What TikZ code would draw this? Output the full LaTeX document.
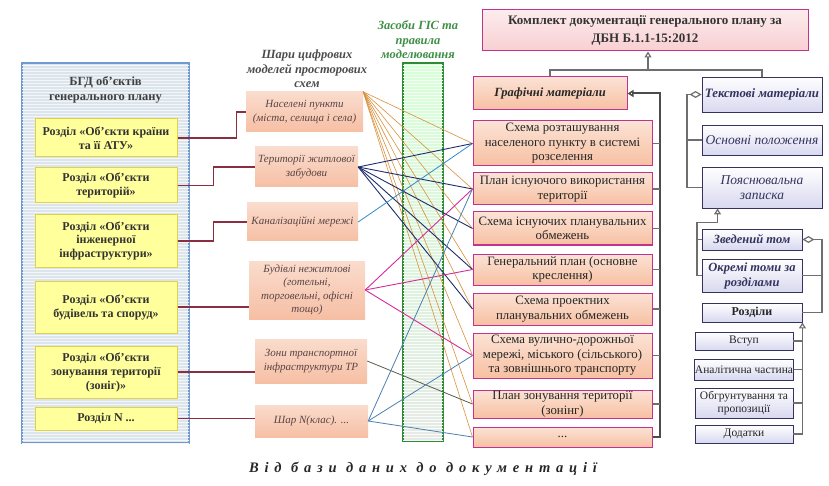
\documentclass[tikz,border=0pt]{standalone}
\usepackage{fontspec}
\setmainfont{Liberation Serif}
\usetikzlibrary{calc,patterns,arrows.meta}

\definecolor{bdline}{HTML}{6F9AD0}
\definecolor{bdfill}{HTML}{DCE4EC}
\definecolor{ylfill}{HTML}{FFFF9C}
\definecolor{ylline}{HTML}{E0D04A}
\definecolor{lrfill}{HTML}{F6BFA4}
\definecolor{lrtext}{HTML}{5A4444}
\definecolor{gisline}{HTML}{2E8A34}
\definecolor{gistext}{HTML}{3F8F46}
\definecolor{grline}{HTML}{C2338F}
\definecolor{grfill}{HTML}{F7C0A2}
\definecolor{kfill}{HTML}{F8CFD2}
\definecolor{txline}{HTML}{33335E}
\definecolor{txfill}{HTML}{D8D8F0}
\definecolor{wire}{HTML}{6E6E6E}
\definecolor{elbow}{HTML}{8C2E42}
\definecolor{wOrange}{HTML}{D9903C}
\definecolor{wNavy}{HTML}{1E2E6E}
\definecolor{wBlue}{HTML}{2E8BC8}
\definecolor{wMag}{HTML}{D42C9A}
\definecolor{wOlive}{HTML}{56604A}
\definecolor{wSteel}{HTML}{4A7FB0}

\tikzset{
  bdsec/.style={draw=ylline, fill=ylfill, line width=1pt, minimum width=142pt, inner sep=0pt,
    align=center, font=\bfseries\fontsize{12}{14}\selectfont, text=black!80},
  layer/.style={top color=lrfill!55!white, bottom color=lrfill, inner sep=0pt, align=center,
    font=\itshape\fontsize{11}{13.5}\selectfont, text=lrtext},
  grmat/.style={draw=grline, line width=1pt, top color=grfill!45!white, bottom color=grfill,
    minimum width=179pt, inner sep=0pt, align=center, font=\fontsize{12.8}{14.5}\selectfont, text=black!85},
  txmat/.style={draw=txline, line width=0.9pt, top color=white, bottom color=txfill,
    minimum width=120pt, inner sep=0pt, align=center, font=\itshape\fontsize{13.5}{15}\selectfont, text=txline},
  txsub/.style={draw=txline, line width=0.9pt, top color=white, bottom color=txfill,
    minimum width=98pt, inner sep=0pt, align=center, font=\fontsize{11.5}{13}\selectfont, text=black!85},
  hdr/.style={align=center, font=\bfseries\itshape\fontsize{12.5}{14.5}\selectfont},
  link/.style={wire, line width=1.2pt},
  otri/.tip={Triangle[open, length=6pt, width=7pt]},
  odia/.tip={Diamond[open, length=12pt, width=7pt]},
}

\begin{document}
\begin{tikzpicture}[x=1pt,y=-1pt]
  \useasboundingbox (0,0) rectangle (829,486);
  %%%%% START %%%%%
  % database block
  \node[draw=bdline, line width=1.2pt, fill=bdfill, minimum width=167pt, minimum height=380pt,
    postaction={pattern=horizontal lines, pattern color=white!70!bdfill}] (bd) at (105.5,253) {};
  \node[hdr, font=\bfseries\fontsize{12.5}{15}\selectfont, text=black!75] (bdt) at (105.5,90) {БГД об'єктів\\генерального плану};

  \node[bdsec, minimum height=38pt] (y1) at (106,138) {Розділ «Об'єкти країни\\та її АТУ»};
  \node[bdsec, minimum height=35pt] (y2) at (106,185.5) {Розділ «Об'єкти\\територій»};
  \node[bdsec, minimum height=52pt] (y3) at (106,241) {Розділ «Об'єкти\\інженерної\\інфраструктури»};
  \node[bdsec, minimum height=52pt] (y4) at (106,307) {Розділ «Об'єкти\\будівель та споруд»};
  \node[bdsec, minimum height=52pt] (y5) at (106,372) {Розділ «Об'єкти\\зонування території\\(зоніг)»};
  \node[bdsec, minimum height=23pt] (y6) at (106,418.5) {Розділ N ...};

  % layers
  \node[hdr, text=black!70] (lhd) at (307,69) {Шари цифрових\\моделей просторових\\схем};
  \node[layer, minimum width=117pt, minimum height=40pt] (p1) at (304.5,112) {Населені пункти\\(міста, селища і села)};
  \node[layer, minimum width=103pt, minimum height=40pt] (p2) at (306.5,167) {Території житлової\\забудови};
  \node[layer, minimum width=111pt, minimum height=38pt] (p3) at (302.5,222) {Каналізаційні мережі};
  \node[layer, minimum width=116pt, minimum height=58pt] (p4) at (307,290) {Будівлі нежитлові\\(готельні,\\торговельні, офісні\\тощо)};
  \node[layer, minimum width=112pt, minimum height=44pt] (p5) at (311,361) {Зони транспортної\\інфраструктури ТР};
  \node[layer, minimum width=113pt, minimum height=32pt] (p6) at (311.5,421) {Шар N(клас). ...};

  \draw[elbow, line width=1.2pt] (y1.east) -- ++(59,0) |- (p1.west);
  \draw[elbow, line width=1.2pt] (y2.east) -- ++(36,0) |- (p2.west);
  \draw[elbow, line width=1.2pt] (y3.east) -- ++(36,0) |- (p3.west);
  \draw[elbow, line width=1.2pt] (y4.east) -- (y4.east -| p4.west);
  \draw[elbow, line width=1.2pt] (y5.east) -- (y5.east -| p5.west);
  \draw[elbow, line width=1.2pt] (y6.east) -- (y6.east -| p6.west);

  % GIS column
  \node[hdr, text=gistext] (ghd) at (418,40) {Засоби ГІС та\\правила\\моделювання};
  \node[draw=gisline, line width=1.6pt, top color=green!16!white, bottom color=black!9,
    minimum width=40pt, minimum height=378pt,
    postaction={pattern=horizontal lines, pattern color=white!60!green!10}] (gis) at (423,252) {};

  % documentation set
  \node[draw=grline, line width=1pt, top color=kfill!40!white, bottom color=kfill, minimum width=326pt,
    minimum height=41pt, align=center, font=\bfseries\fontsize{13}{18}\selectfont, text=black!80] (kdoc) at (645,30.5)
    {Комплект документації генерального плану за\\ДБН Б.1.1-15:2012};
  \node[grmat, minimum width=154pt, minimum height=33pt, font=\bfseries\itshape\fontsize{12.5}{14}\selectfont] (g0) at (550,93.5) {Графічні матеріали};
  \node[grmat, minimum height=45pt] (g1) at (562.5,143.5) {Схема розташування\\населеного пункту в системі\\розселення};
  \node[grmat, minimum height=32pt] (g2) at (562.5,189) {План існуючого використання\\території};
  \node[grmat, minimum height=33pt] (g3) at (562.5,228.5) {Схема існуючих планувальних\\обмежень};
  \node[grmat, minimum height=31pt] (g4) at (562.5,269.5) {Генеральний план (основне\\креслення)};
  \node[grmat, minimum height=32pt] (g5) at (562.5,309) {Схема проектних\\планувальних обмежень};
  \node[grmat, minimum height=45pt] (g6) at (562.5,355.5) {Схема вулично-дорожньої\\мережі, міського (сільського)\\та зовнішнього транспорту};
  \node[grmat, minimum height=28pt] (g7) at (562.5,404) {План зонування території\\(зонінг)};
  \node[grmat, minimum height=20pt] (g8) at (562.5,437) {...};

  \node[txmat, minimum height=35pt, font=\bfseries\itshape\fontsize{12.8}{14}\selectfont] (tm) at (762,94.5) {Текстові матеріали};
  \node[txmat, minimum height=30pt] (op) at (762,140) {Основні положення};
  \node[txmat, minimum height=41pt] (pz) at (762,187.5) {Пояснювальна\\записка};
  \node[txmat, minimum width=100pt, minimum height=21pt, font=\bfseries\itshape\fontsize{12.5}{14}\selectfont] (zt) at (752,239.5) {Зведений том};
  \node[txmat, minimum width=100pt, minimum height=33pt, font=\bfseries\itshape\fontsize{12.5}{15}\selectfont] (ok) at (752,275.5) {Окремі томи за\\розділами};
  \node[txsub, minimum width=100pt, minimum height=19pt, font=\bfseries\fontsize{12}{13}\selectfont] (rz) at (752,312.5) {Розділи};
  \node[txsub, minimum height=18pt] (vs) at (744,341) {Вступ};
  \node[txsub, minimum height=21pt] (an) at (744,369.5) {Аналітична частина};
  \node[txsub, minimum height=30pt] (ob) at (744,403) {Обгрунтування та\\пропозиції};
  \node[txsub, minimum height=18pt] (dd) at (744,434) {Додатки};

  % wires from layers to sheets
  \foreach \g in {g1,g2,g3,g4,g5,g6,g7,g8}
    \draw[wOrange, line width=0.6pt] (p1.north east) -- (\g.west);
  \foreach \g in {g1,g2,g3,g4,g5}
    \draw[wNavy, line width=0.9pt] (p2.east) -- (\g.west);
  \draw[wBlue, line width=0.8pt] (p3.east) -- (g1.west);
  \foreach \g in {g2,g4,g6}
    \draw[wMag, line width=0.9pt] (p4.east) -- (\g.west);
  \draw[wOlive, line width=0.8pt] (p5.east) -- (g7.west);
  \foreach \g in {g2,g6,g8}
    \draw[wSteel, line width=0.8pt] (p6.east) -- (\g.west);

  % right side connectors
  \coordinate (kj) at (648,70);
  \draw[link] (g0.north) |- (kj) -| (tm.north);
  \draw[link, -{otri}] (kj) -- (kj |- kdoc.south);

  \coordinate (gbus) at (660,0);
  \draw[link, line width=2pt, black!70, -{otri}] (g8.east) -| (gbus |- g0.east) -- (g0.east);
  \foreach \g in {g1,g2,g3,g4,g5,g6,g7}
    \draw[link] (\g.east) -- (\g.east -| gbus);

  \coordinate (tbus) at (687,0);
  \draw[link, {odia}-] (tm.west) -| (tbus |- pz.west) -- (pz.west);
  \draw[link] (op.west) -- (op.west -| tbus);

  \coordinate (pzt) at ($(pz.south west)+(16,0)$);
  \coordinate (zbus) at (697,0);
  \draw[link, {otri}-] (pzt) -- ++(0,14) -| (zbus |- ok.west) -- (ok.west);
  \draw[link] (zt.west) -- (zt.west -| zbus);

  \coordinate (rbus) at (822,0);
  \draw[link, {odia}-] (zt.east) -| (rbus |- rz.east) -- (rz.east);
  \draw[link] (ok.east) -- (ok.east -| rbus);

  \draw[link, {otri}-] (rz.south east) -- (rz.south east |- dd.east) -- (dd.east);
  \foreach \s in {vs,an,ob}
    \draw[link] (\s.east) -- (\s.east -| rz.south east);

  \node[font=\bfseries\itshape\fontsize{14.5}{16}\selectfont\addfontfeatures{LetterSpace=40}, text=black!85] (cap) at (423,469) {Від бази даних до документації};
  %%%%% END %%%%%
\end{tikzpicture}
\end{document}
